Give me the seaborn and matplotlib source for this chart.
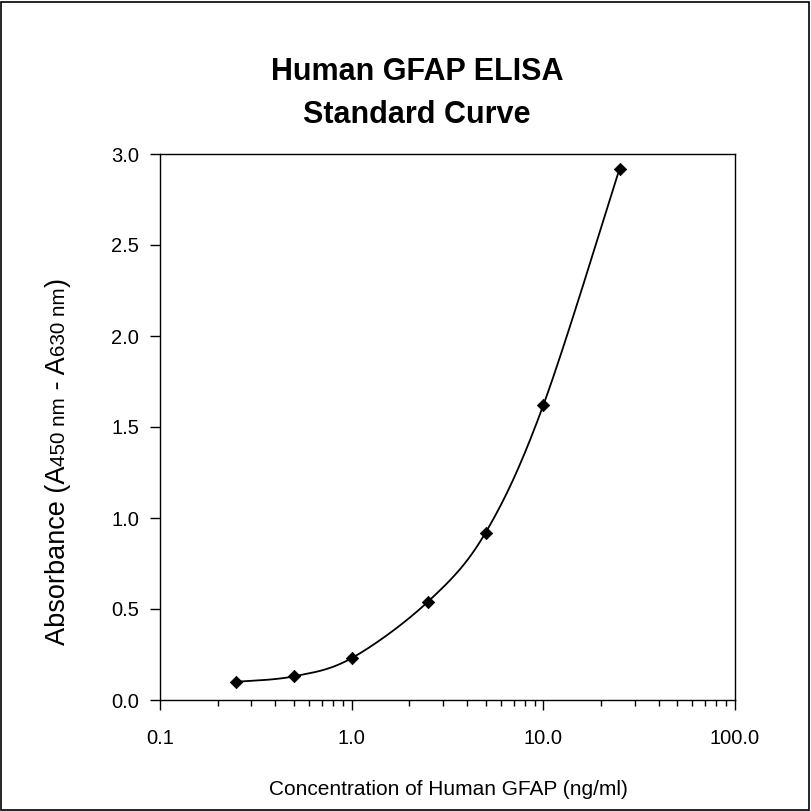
import numpy as np
import pandas as pd
import matplotlib
matplotlib.use("Agg")
import matplotlib.pyplot as plt
import seaborn as sns
from matplotlib.ticker import LogLocator, FixedLocator, NullFormatter

# ---- data ----
concentration = [0.25, 0.5, 1.0, 2.5, 5.0, 10.0, 25.0]
absorbance = [0.10, 0.13, 0.23, 0.54, 0.92, 1.62, 2.92]
x_ticks = [0.1, 1.0, 10.0, 100.0]
x_tick_labels = ["0.1", "1.0", "10.0", "100.0"]
y_ticks = [0.0, 0.5, 1.0, 1.5, 2.0, 2.5, 3.0]
y_tick_labels = ["0.0", "0.5", "1.0", "1.5", "2.0", "2.5", "3.0"]
title_lines = ["Human GFAP ELISA", "Standard Curve"]
x_label = "Concentration of Human GFAP (ng/ml)"
y_label_parts = [("Absorbance (A", 1.0), ("450 nm", 0.76), (" - A", 1.0), ("630 nm", 0.76), (")", 1.0)]

sns.set_theme(style="white")
plt.rcParams["font.family"] = ["Liberation Sans", "DejaVu Sans"]
plt.rcParams["text.color"] = "black"
plt.rcParams["axes.labelcolor"] = "black"
plt.rcParams["xtick.color"] = "black"
plt.rcParams["ytick.color"] = "black"

W, H = 811, 811
fig = plt.figure(figsize=(W / 100, H / 100), dpi=100)
fig.patch.set_facecolor("white")
ax = fig.add_axes([160 / W, 1 - 700 / H, (735 - 160) / W, (700 - 154) / H])

# smoothed (Excel-style Bezier) curve through the points, in log-x space
u = np.log10(np.array(concentration))
v = np.array(absorbance)
n = len(u)
cu, cv = [], []
for i in range(n - 1):
    p0 = np.array([u[i], v[i]])
    p3 = np.array([u[i + 1], v[i + 1]])
    prev = np.array([u[i - 1], v[i - 1]]) if i > 0 else p0
    nxt = np.array([u[i + 2], v[i + 2]]) if i + 2 < n else p3
    c1 = p0 + (p3 - prev) / 6.0
    c2 = p3 - (nxt - p0) / 6.0
    t = np.linspace(0, 1, 30)[:, None]
    seg = (1 - t) ** 3 * p0 + 3 * (1 - t) ** 2 * t * c1 + 3 * (1 - t) * t ** 2 * c2 + t ** 3 * p3
    if i > 0:
        seg = seg[1:]
    cu.extend(seg[:, 0]); cv.extend(seg[:, 1])
curve = pd.DataFrame({"x": 10 ** np.array(cu), "y": np.array(cv)})
pts = pd.DataFrame({"x": concentration, "y": absorbance})

sns.lineplot(data=curve, x="x", y="y", sort=False, estimator=None, color="black", linewidth=1.3, ax=ax)
sns.scatterplot(data=pts, x="x", y="y", marker="D", s=40, color="black", edgecolor="black", ax=ax, zorder=3)

ax.set_xscale("log")
ax.set_xlim(0.1, 100)
ax.set_ylim(0, 3.0)
ax.xaxis.set_major_locator(FixedLocator(x_ticks))
ax.set_xticklabels(x_tick_labels)
ax.xaxis.set_minor_locator(LogLocator(base=10, subs=np.arange(2, 10)))
ax.xaxis.set_minor_formatter(NullFormatter())
ax.set_yticks(y_ticks)
ax.set_yticklabels(y_tick_labels)
ax.set_xlabel("")
ax.set_ylabel("")
for s in ax.spines.values():
    s.set_visible(True)
    s.set_color("black")
    s.set_linewidth(1.0)
ax.tick_params(axis="both", which="major", direction="out", length=7, width=1, color="black",
               labelsize=14.5, labelcolor="black", bottom=True, left=True)
ax.tick_params(axis="x", which="major", pad=14)
ax.tick_params(axis="y", which="major", pad=8)
ax.tick_params(axis="x", which="minor", direction="out", length=4, width=1, color="black", bottom=True)

# title
fig.text(417 / W, 1 - 80 / H, title_lines[0], ha="center", va="baseline", fontsize=22,
         fontweight="bold", color="black")
fig.text(417 / W, 1 - 123 / H, title_lines[1], ha="center", va="baseline", fontsize=22,
         fontweight="bold", color="black")

# x label
fig.text(448 / W, 1 - 795 / H, x_label, ha="center", va="baseline", fontsize=15, color="black")

# y label pieces (rotated, baseline aligned)
renderer = fig.canvas.get_renderer()
ypos = 645.0
base_fs = 19.5
for txt, scale in y_label_parts:
    t = fig.text(65 / W, 1 - ypos / H, txt, rotation=90, rotation_mode="anchor",
                 ha="left", va="baseline", fontsize=base_fs * scale, color="black")
    bb = t.get_window_extent(renderer)
    ypos -= bb.height

# figure border
fig.add_artist(plt.Rectangle((1 / W, 1 / H), 1 - 3 / W, 1 - 3 / H, transform=fig.transFigure,
                             fill=False, edgecolor="black", linewidth=1.2))

fig.savefig("out.png", dpi=100)
